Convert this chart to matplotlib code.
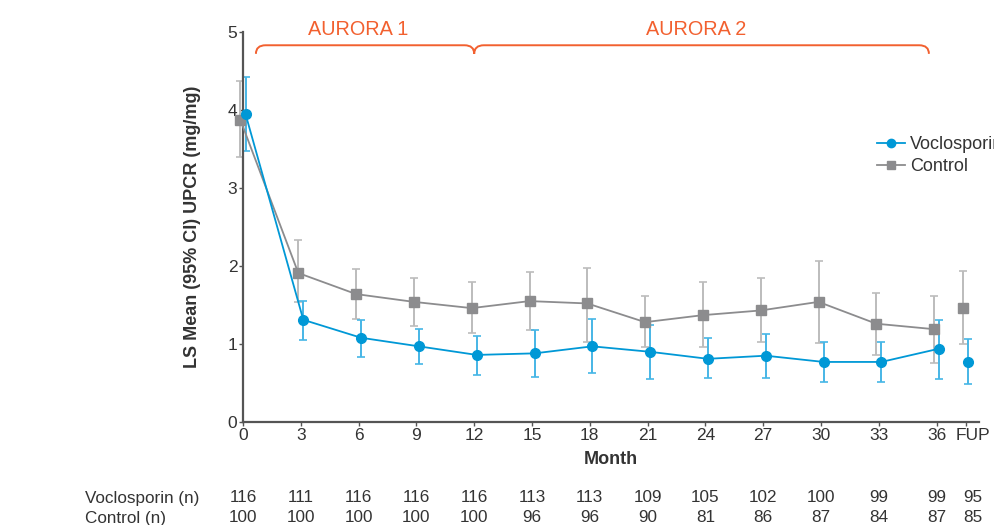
import matplotlib.pyplot as plt
from matplotlib.path import Path
from matplotlib.patches import PathPatch
from matplotlib.lines import Line2D
import matplotlib.transforms as mtransforms

plt.rcParams['font.family'] = ['Liberation Sans', 'DejaVu Sans']

# Data
months = [0, 3, 6, 9, 12, 15, 18, 21, 24, 27, 30, 33, 36]
fup_pos = 37.5
tick_labels = ['0', '3', '6', '9', '12', '15', '18', '21', '24', '27', '30', '33', '36', 'FUP']

voclo_mean = [3.95, 1.31, 1.08, 0.97, 0.86, 0.88, 0.97, 0.90, 0.81, 0.85, 0.77, 0.77, 0.94]
voclo_low = [3.47, 1.05, 0.83, 0.74, 0.60, 0.58, 0.63, 0.55, 0.56, 0.56, 0.51, 0.51, 0.55]
voclo_high = [4.42, 1.55, 1.31, 1.19, 1.10, 1.18, 1.32, 1.24, 1.08, 1.13, 1.03, 1.03, 1.31]
voclo_fup = [0.77, 0.49, 1.06]  # mean, low, high

ctrl_mean = [3.87, 1.91, 1.64, 1.54, 1.46, 1.55, 1.52, 1.28, 1.37, 1.43, 1.54, 1.26, 1.19]
ctrl_low = [3.40, 1.54, 1.32, 1.23, 1.14, 1.18, 1.03, 0.96, 0.96, 1.03, 1.01, 0.86, 0.76]
ctrl_high = [4.37, 2.33, 1.96, 1.85, 1.79, 1.92, 1.98, 1.61, 1.79, 1.84, 2.06, 1.66, 1.62]
ctrl_fup = [1.46, 1.00, 1.94]

voclo_n = [116, 111, 116, 116, 116, 113, 113, 109, 105, 102, 100, 99, 99, 95]
ctrl_n = [100, 100, 100, 100, 100, 96, 96, 90, 81, 86, 87, 84, 87, 85]

BLUE = '#0098d6'
BLUE_ERR = '#46b6e6'
GREY = '#8c8c8e'
GREY_ERR = '#bcbcbc'
ORANGE = '#f2602f'
AXIS = '#555555'
TXT = '#333333'

fig = plt.figure(figsize=(9.95, 5.25), dpi=100)
ax = fig.add_axes([243 / 995, 1 - 422 / 525, 736 / 995, 390 / 525])

off = 0.13
xv = [m + off for m in months]
xc = [m - off for m in months]


def draw_series(ax, x, mean, low, high, fup, color, ecolor, marker, ms):
    yerr = [[m - l for m, l in zip(mean, low)], [h - m for m, h in zip(mean, high)]]
    ax.errorbar(x, mean, yerr=yerr, fmt='none', ecolor=ecolor, elinewidth=1.4,
                capsize=3, capthick=1.2, clip_on=False, zorder=2)
    ax.plot(x, mean, color=color, lw=1.3, marker=marker, ms=ms, clip_on=False, zorder=3)
    fx = fup_pos + (x[0] - months[0])
    ax.errorbar([fx], [fup[0]], yerr=[[fup[0] - fup[1]], [fup[2] - fup[0]]], fmt='none',
                ecolor=ecolor, elinewidth=1.4, capsize=3, capthick=1.2, clip_on=False, zorder=2)
    ax.plot([fx], [fup[0]], color=color, marker=marker, ms=ms, ls='none', clip_on=False, zorder=3)


draw_series(ax, xc, ctrl_mean, ctrl_low, ctrl_high, ctrl_fup, GREY, GREY_ERR, 's', 7)
draw_series(ax, xv, voclo_mean, voclo_low, voclo_high, voclo_fup, BLUE, BLUE_ERR, 'o', 7)

ax.set_xlim(0, 38.2)
ax.set_ylim(0, 5)
ax.set_xticks(months + [fup_pos])
ax.set_xticklabels(tick_labels)
ax.set_yticks([0, 1, 2, 3, 4, 5])
for s in ['top', 'right']:
    ax.spines[s].set_visible(False)
for s in ['left', 'bottom']:
    ax.spines[s].set_color(AXIS)
    ax.spines[s].set_linewidth(1.6)
ax.tick_params(axis='both', colors=AXIS, labelcolor=TXT, labelsize=12.5,
               length=3, width=1, pad=1)

# FUP label sits a little right of its tick in the original
shift = mtransforms.ScaledTranslation(7 / 100, 0, fig.dpi_scale_trans)
fup_lbl = ax.get_xticklabels()[-1]
fup_lbl.set_transform(fup_lbl.get_transform() + shift)

ax.set_ylabel('LS Mean (95% CI) UPCR (mg/mg)', fontsize=13, fontweight='bold', color=TXT)
ax.yaxis.set_label_coords(-(243 - 201) / 736, 0.5)
ax.set_xlabel('Month', fontsize=13, fontweight='bold', color=TXT)
ax.xaxis.set_label_coords(0.5, -(451 - 422) / 390)

# AURORA braces
x0, xm, x1 = 0.67, 12.0, 35.6
ytop, ylow = 4.83, 4.72
r = 0.5
verts = [(x0, ylow), (x0, ytop), (x0 + r, ytop),
         (xm - r, ytop), (xm, ytop), (xm, ylow),
         (xm, ytop), (xm + r, ytop),
         (x1 - r, ytop), (x1, ytop), (x1, ylow)]
codes = [Path.MOVETO, Path.CURVE3, Path.CURVE3,
         Path.LINETO, Path.CURVE3, Path.CURVE3,
         Path.CURVE3, Path.CURVE3,
         Path.LINETO, Path.CURVE3, Path.CURVE3]
ax.add_patch(PathPatch(Path(verts, codes), fill=False, edgecolor=ORANGE, lw=1.4, clip_on=False))
ax.text(6.0, 5.03, 'AURORA 1', color=ORANGE, fontsize=14.3, ha='center', va='center')
ax.text(23.5, 5.03, 'AURORA 2', color=ORANGE, fontsize=14.3, ha='center', va='center')

# legend (runs off the right edge, as in the original)
handles = [Line2D([], [], color=BLUE, marker='o', ms=6, lw=1.3),
           Line2D([], [], color=GREY, marker='s', ms=6, lw=1.3)]
fig.legend(handles, ['Voclosporin', 'Control'], loc='upper left',
           bbox_to_anchor=(877 / 995, 1 - 136 / 525), frameon=False, fontsize=13,
           borderpad=0, borderaxespad=0, handlelength=1.55, handletextpad=0.3,
           labelspacing=0.3, labelcolor=TXT)

# numbers at risk table
trans = mtransforms.blended_transform_factory(ax.transData, fig.transFigure)
positions = months + [fup_pos]
row_y = [1 - 498 / 525, 1 - 518 / 525]
fig.text(85 / 995, row_y[0], 'Voclosporin (n)', fontsize=12.3, color=TXT, va='center')
fig.text(85 / 995, row_y[1], 'Control (n)', fontsize=12.3, color=TXT, va='center')
for i, (p, nv, nc) in enumerate(zip(positions, voclo_n, ctrl_n)):
    t = trans + shift if i == len(positions) - 1 else trans
    ax.text(p, row_y[0], str(nv), transform=t, ha='center', va='center',
            fontsize=12.3, color=TXT)
    ax.text(p, row_y[1], str(nc), transform=t, ha='center', va='center',
            fontsize=12.3, color=TXT)

fig.savefig('out.png', dpi=100)
